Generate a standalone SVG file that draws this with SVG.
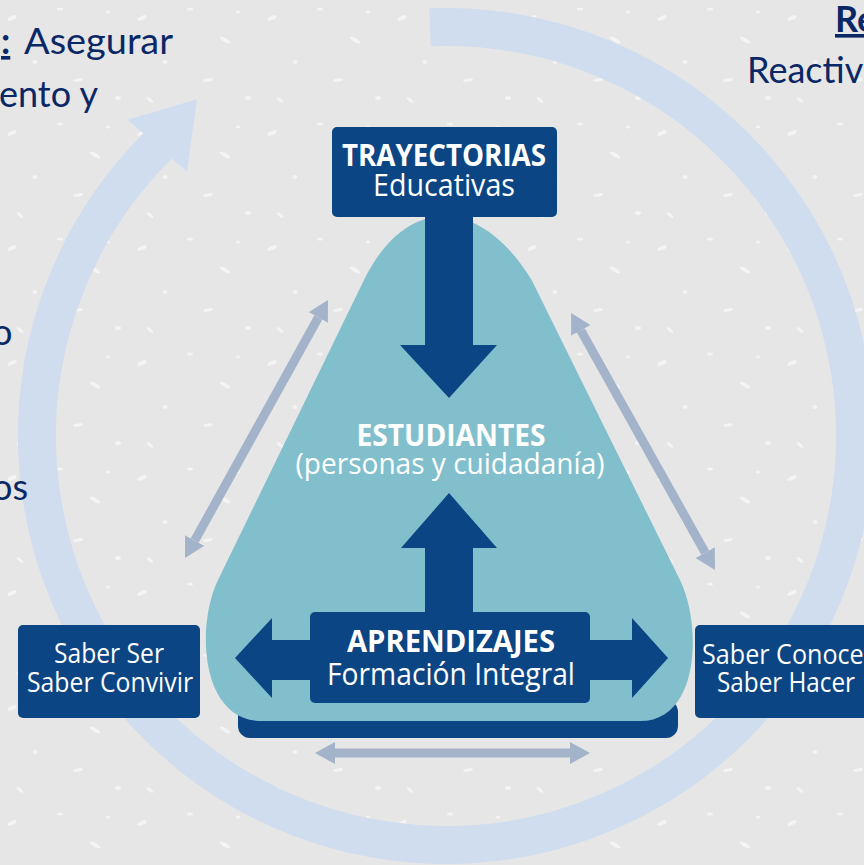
<svg xmlns="http://www.w3.org/2000/svg" width="864" height="865" viewBox="0 0 864 865">
<defs>
<style>
.dk{fill:#0b4583}
.lbl{font-family:"Open Sans","Noto Sans",sans-serif;fill:#ffffff;text-anchor:middle}
.b{font-weight:700}
.side{font-family:Lato,"Open Sans",sans-serif;fill:#0a2766;font-size:36px}
.lt{stroke:#a3b4ca;stroke-width:9;fill:none;marker-start:url(#ah);marker-end:url(#ah)}
</style>
<marker id="ah" viewBox="0 0 20 22" refX="0" refY="11" markerWidth="20" markerHeight="22" markerUnits="userSpaceOnUse" orient="auto-start-reverse">
<path d="M0,0 L20,11 L0,22 z" fill="#a3b4ca"/>
</marker>
<pattern id="tex" width="130" height="115" patternUnits="userSpaceOnUse">
<g fill="#ffffff" opacity="0.55">
<ellipse cx="12" cy="18" rx="5" ry="2" transform="rotate(-25 12 18)"/>
<ellipse cx="60" cy="9" rx="3" ry="1.5"/>
<ellipse cx="95" cy="40" rx="6" ry="2" transform="rotate(30 95 40)"/>
<ellipse cx="35" cy="62" rx="2.5" ry="2"/>
<ellipse cx="78" cy="80" rx="5" ry="1.6" transform="rotate(-10 78 80)"/>
<ellipse cx="118" cy="98" rx="3" ry="2"/>
<ellipse cx="20" cy="100" rx="4" ry="1.5" transform="rotate(40 20 100)"/>
<ellipse cx="108" cy="12" rx="2" ry="1.5"/>
</g>
</pattern>
</defs>

<rect x="0" y="0" width="864" height="865" fill="#e6e6e6"/>
<rect x="0" y="0" width="864" height="865" fill="url(#tex)"/>

<g id="cycle">
<path d="M430,27.3 A409,409 0 1 1 158.3,145.3" fill="none" stroke="#d0ddef" stroke-width="38"/>
<polygon points="127.7,119.8 197,99.3 186.9,171.8" fill="#d0ddef"/>
</g>

<g id="side-texts">
<text class="side" x="1" y="54" font-weight="700" text-decoration="underline">:</text>
<text class="side" x="24" y="54" textLength="149" lengthAdjust="spacingAndGlyphs">Asegurar</text>
<text class="side" x="-1" y="107">ento y</text>
<text class="side" x="-8" y="345">o</text>
<text class="side" x="-8" y="500">os</text>
<text class="side" x="835" y="32" font-weight="700" text-decoration="underline">Re</text>
<text class="side" x="747" y="83">Reactiv</text>
</g>

<g id="node-estudiantes">
<rect x="238" y="700" width="440" height="38" rx="12" class="dk"/>
<path d="M364,280 C405.8,195 479.6,195 531.6,280 L680,580 C702,625 700,721 640,721 L262,721 C200,721 196,625 218,580 Z" fill="#82bfcc"/>
<text class="lbl b" x="451" y="446" font-size="30" textLength="189" lengthAdjust="spacingAndGlyphs">ESTUDIANTES</text>
<text class="lbl" x="450" y="474" font-size="30" textLength="309" lengthAdjust="spacingAndGlyphs">(personas y cuidadanía)</text>
</g>

<g id="connectors">
<rect x="425" y="214" width="48" height="133" class="dk"/>
<polygon points="400,345 497,345 449,398" class="dk"/>
<polygon points="401,548 497,548 449,493" class="dk"/>
<rect x="425" y="546" width="48" height="68" class="dk"/>
<polygon points="235,658 272,618 272,640 632,640 632,618 668,658 632,698 632,680 272,680 272,698" class="dk"/>
<line x1="318.3" y1="317.5" x2="194.7" y2="540.5" class="lt"/>
<line x1="580.8" y1="330.4" x2="705.2" y2="552.6" class="lt"/>
<line x1="335" y1="753" x2="570" y2="753" class="lt"/>
</g>

<g id="node-trayectorias">
<rect x="332" y="127" width="225" height="90" rx="5" class="dk"/>
<text class="lbl b" x="444" y="166" font-size="31" textLength="204" lengthAdjust="spacingAndGlyphs">TRAYECTORIAS</text>
<text class="lbl" x="444" y="196" font-size="31" textLength="142" lengthAdjust="spacingAndGlyphs">Educativas</text>
</g>

<g id="node-aprendizajes">
<rect x="310" y="612" width="280" height="91" rx="5" class="dk"/>
<text class="lbl b" x="451" y="652" font-size="31" textLength="208" lengthAdjust="spacingAndGlyphs">APRENDIZAJES</text>
<text class="lbl" x="451" y="685" font-size="31" textLength="248" lengthAdjust="spacingAndGlyphs">Formación Integral</text>
</g>

<g id="node-saber-ser">
<rect x="18" y="625" width="182" height="93" rx="5" class="dk"/>
<text class="lbl" x="109" y="663" font-size="28" textLength="110" lengthAdjust="spacingAndGlyphs">Saber Ser</text>
<text class="lbl" x="110" y="692" font-size="28" textLength="166" lengthAdjust="spacingAndGlyphs">Saber Convivir</text>
</g>

<g id="node-saber-conocer">
<rect x="695" y="625" width="185" height="93" rx="5" class="dk"/>
<text class="lbl" x="788" y="664" font-size="28" textLength="172" lengthAdjust="spacingAndGlyphs">Saber Conocer</text>
<text class="lbl" x="786" y="692" font-size="28" textLength="138" lengthAdjust="spacingAndGlyphs">Saber Hacer</text>
</g>
</svg>
